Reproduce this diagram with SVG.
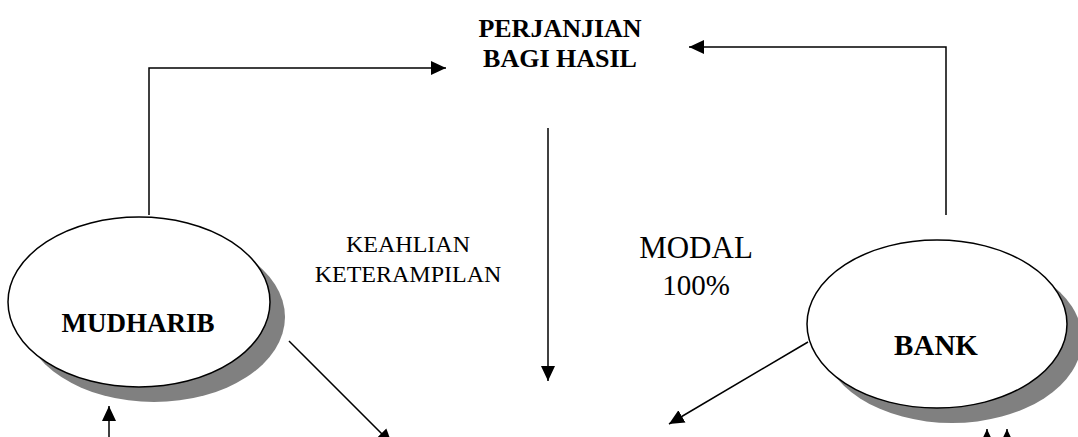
<svg xmlns="http://www.w3.org/2000/svg" width="1078" height="437" viewBox="0 0 1078 437">
<style>
.bold{font-family:"Liberation Serif","Times New Roman",serif;font-weight:bold;fill:#000;text-anchor:middle}
.reg{font-family:"Liberation Serif","Times New Roman",serif;fill:#000;text-anchor:middle}
.ln{stroke:#000;stroke-width:1.5;fill:none}
.shadow{fill:#808080;stroke:none}
.ell{fill:#fff;stroke:#000;stroke-width:1.5}
</style>
<defs>
<marker id="ah" markerUnits="userSpaceOnUse" markerWidth="16" markerHeight="16" viewBox="0 0 16 16" refX="15" refY="8" orient="auto">
<path d="M0,1 L15,8 L0,15 Z" fill="#000"/>
</marker>
</defs>
<rect width="1078" height="437" fill="#fff"/>
<g id="connectors">
<polyline class="ln" points="149,215 149,68 446,68" marker-end="url(#ah)"/>
<polyline class="ln" points="946,215 946,47 689,47" marker-end="url(#ah)"/>
<line class="ln" x1="548" y1="128" x2="548" y2="381" marker-end="url(#ah)"/>
<line class="ln" x1="289" y1="341" x2="392" y2="444" marker-end="url(#ah)"/>
<line class="ln" x1="808" y1="342" x2="669" y2="424" marker-end="url(#ah)"/>
<line class="ln" x1="109" y1="440" x2="109" y2="406" marker-end="url(#ah)"/>
<line class="ln" x1="987" y1="460" x2="987" y2="429" marker-end="url(#ah)"/>
<line class="ln" x1="1007" y1="460" x2="1007" y2="429" marker-end="url(#ah)"/>
</g>
<g id="perjanjian">
<text class="bold" x="560" y="37" font-size="26">PERJANJIAN</text>
<text class="bold" x="560" y="67" font-size="26">BAGI HASIL</text>
</g>
<g id="mudharib">
<ellipse class="shadow" cx="154" cy="317" rx="131" ry="85"/>
<ellipse class="ell" cx="139" cy="302" rx="131" ry="85"/>
<text class="bold" x="138" y="332" font-size="27">MUDHARIB</text>
</g>
<g id="bank">
<ellipse class="shadow" cx="952" cy="339" rx="130" ry="84"/>
<ellipse class="ell" cx="937" cy="324" rx="130" ry="84"/>
<text class="bold" x="936" y="355" font-size="29">BANK</text>
</g>
<g id="keahlian">
<text class="reg" x="408" y="252" font-size="24">KEAHLIAN</text>
<text class="reg" x="408" y="282" font-size="24">KETERAMPILAN</text>
</g>
<g id="modal">
<text class="reg" x="696" y="258" font-size="31">MODAL</text>
<text class="reg" x="696" y="295" font-size="29">100%</text>
</g>
</svg>
